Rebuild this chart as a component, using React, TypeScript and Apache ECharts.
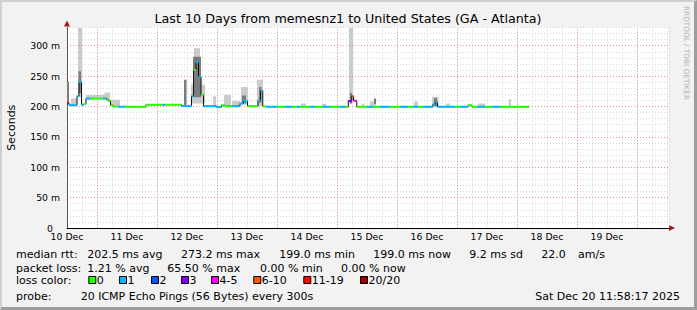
import React, { useEffect, useRef } from "react";
import * as echarts from "echarts";

// ---------- data ----------
const dayLabels = ["10 Dec", "11 Dec", "12 Dec", "13 Dec", "14 Dec", "15 Dec", "16 Dec", "17 Dec", "18 Dec", "19 Dec"];
const midnightHours = [12, 36, 60, 84, 108, 132, 156, 180, 204, 228];
const majorMs = [50, 100, 150, 200, 250, 300];

// median rtt change points: hours since start, ms, loss-colour index
const medianH = [0, 0.8, 4.0, 4.8, 5.8, 6.6, 7.6, 9.2, 14.4, 16.0, 16.6, 17.4, 18.4, 20.4, 23.2, 31.6, 38.0, 39.2, 45.8, 49.8, 50.6, 51.6, 52.6, 53.6, 54.6, 59.8, 61.8, 63.2, 66.0, 69.2, 70.5, 72.2, 76.4, 77.4, 78.3, 79.6, 84.0, 87.2, 90.0, 92.0, 93.2, 97.2, 99.2, 102.4, 105.2, 109.2, 111.2, 112.5, 113.9, 114.6, 115.9, 120.0, 122.4, 125.2, 129.2, 133.2, 136.4, 138.4, 140.4, 142.4, 146.4, 147.4, 148.2, 155.2, 157.2, 160.4, 162.0, 164.0, 167.2, 170.0, 173.2];
const medianMs = [206, 202, 217, 240, 203, 204, 213, 213, 213, 211, 209, 202, 200, 199.5, 199.5, 203, 203, 203, 201, 217, 260, 273, 249, 219, 200.5, 199, 202, 200.5, 200.5, 205, 209, 200.5, 210, 226, 200, 199.5, 199.5, 199.5, 199.5, 199.5, 199.5, 199.5, 199.5, 199.5, 199.5, 199.5, 199.5, 209, 217, 209.5, 199.5, 199.5, 199.5, 199.5, 199.5, 199.5, 199.5, 199.5, 199.5, 199.5, 204, 207, 199.5, 199.5, 199.5, 202, 199.5, 199.5, 199.5, 199.5, 199.5];
const medianLoss = [6, 1, 1, 1, 1, 0, 1, 0, 1, 0, 0, 0, 0, 1, 0, 0, 1, 0, 1, 1, 0, 1, 1, 0, 1, 1, 0, 0, 1, 1, 1, 0, 1, 1, 0, 1, 0, 1, 0, 1, 0, 1, 0, 1, 0, 1, 0, 3, 5, 4, 0, 1, 0, 1, 0, 1, 0, 1, 0, 1, 1, 1, 1, 0, 1, 0, 0, 1, 0, 1, 0];
const lastHour = 184.8;

// smoke: [from h, to h, low ms, high ms]
const smokeLight = [
  [1.6, 4.0, 202, 213], [4.4, 6.0, 215, 329], [7.6, 16.0, 212, 219], [15.0, 17.2, 211, 223],
  [17.2, 21.2, 201, 211], [49.6, 55.2, 205, 236], [50.8, 53.2, 236, 296], [58.4, 59.6, 200, 217],
  [62.8, 65.6, 200, 219], [66.0, 69.2, 200, 209], [69.6, 72.4, 203, 232], [76.0, 78.4, 201, 244],
  [93.6, 95.6, 199, 205], [102.0, 103.6, 199, 204], [112.8, 114.5, 205, 330], [118.0, 118.8, 199, 205],
  [121.2, 123.6, 199, 208], [138.8, 140.4, 199, 208], [146.0, 148.6, 199, 216], [151.6, 153.2, 199, 205],
  [164.4, 167.2, 199, 205], [176.8, 177.6, 199, 212],
];
const smokeDark = [
  [0, 0.8, 205, 241], [4.6, 5.6, 222, 258], [46.8, 47.8, 201, 244], [50.4, 53.6, 215, 282],
  [70.0, 71.6, 205, 218], [76.8, 77.8, 206, 232], [113.2, 114.0, 205, 222], [122.8, 123.6, 204, 213],
  [146.8, 148.0, 201, 214],
];

const lossLabels = ["0", "1", "2", "3", "4-5", "6-10", "11-19", "20/20"];
const lossColors = ["#26ff00", "#00b8ff", "#0059ff", "#7e00ff", "#ff00ff", "#ff5500", "#ff0000", "#a10000"];

const titleText = "Last 10 Days from memesnz1 to United States (GA - Atlanta)";
const rttTexts = ["median rtt:", "202.5 ms avg", "273.2 ms max", "199.0 ms min", "199.0 ms now", "9.2 ms sd", "22.0", "am/s"];
const lossTexts = ["packet loss:", "1.21 % avg", "65.50 % max", "0.00 % min", "0.00 % now"];
const probeTexts = ["probe:", "20 ICMP Echo Pings (56 Bytes) every 300s"];
const stampText = "Sat Dec 20 11:58:17 2025";

// ---------- layout ----------
const FONT = "DejaVu Sans";
const rttX = [16, 87.3, 181, 279.3, 373.3, 469.3, 541.3, 578];
const lossX = [16, 87.3, 167.3, 260, 341];
const boxX = [88.3, 119, 151, 181, 211, 253.3, 303.3, 360];
const probeX = [16, 80.7];

function buildOption() {
  const blocks = medianH.map((h, i) => [h, i + 1 < medianH.length ? medianH[i + 1] : lastHour, medianMs[i], medianLoss[i]]);
  const lineData = medianH.map((h, i) => [h, medianMs[i]]);
  lineData.push([lastHour, medianMs[medianMs.length - 1]]);

  const rectRender = (color: string) => (params: any, api: any) => {
    const p0 = api.coord([api.value(0), api.value(3)]);
    const p1 = api.coord([api.value(1), api.value(2)]);
    return {
      type: "rect",
      shape: { x: p0[0], y: p0[1], width: p1[0] - p0[0], height: p1[1] - p0[1] },
      style: { fill: color },
    };
  };

  const txt = (text: string, x: number, y: number, extra: any = {}) => ({
    type: "text",
    x,
    y,
    silent: true,
    style: { text, fill: "#000", font: `11px '${FONT}'`, verticalAlign: "middle", align: "left", ...extra },
  });

  const graphics: any[] = [];
  graphics.push(txt(titleText, 348, 18, { align: "center", font: `12.7px '${FONT}'` }));
  rttTexts.forEach((t, i) => graphics.push(txt(t, rttX[i], 254)));
  lossTexts.forEach((t, i) => graphics.push(txt(t, lossX[i], 268.3)));
  graphics.push(txt("loss color:", 16, 280.7));
  lossLabels.forEach((t, i) => {
    graphics.push({
      type: "rect",
      silent: true,
      shape: { x: boxX[i] + 0.5, y: 276.5, width: 7, height: 7 },
      style: { fill: lossColors[i], stroke: "#000", lineWidth: 1 },
    });
    graphics.push(txt(t, boxX[i] + 8.5, 280.7));
  });
  probeTexts.forEach((t, i) => graphics.push(txt(t, probeX[i], 296)));
  graphics.push(txt(stampText, 680, 296, { align: "right" }));
  graphics.push({
    type: "text",
    x: 686,
    y: 53,
    rotation: -Math.PI / 2,
    silent: true,
    style: { text: "RRDTOOL / TOBI OETIKER", fill: "#b4b4b4", font: `7.3px '${FONT}'`, align: "center", verticalAlign: "middle" },
  });
  graphics.push({
    type: "polygon",
    silent: true,
    shape: { points: [[64, 26.5], [70, 26.5], [67, 20.5]] },
    style: { fill: "#a01818" },
  });
  graphics.push({
    type: "polygon",
    silent: true,
    shape: { points: [[669, 225], [669, 231], [675, 228]] },
    style: { fill: "#a01818" },
  });

  return {
    animation: false,
    backgroundColor: "transparent",
    textStyle: { fontFamily: FONT },
    grid: {
      left: 67,
      top: 27.5,
      width: 602,
      height: 200.5,
      containLabel: false,
      outerBoundsMode: "none",
      show: true,
      backgroundColor: "#ffffff",
      borderWidth: 0,
    },
    xAxis: {
      type: "value",
      min: 0,
      max: 240.8,
      interval: 6,
      axisLine: { show: true, lineStyle: { color: "#000", width: 1 } },
      axisTick: { show: false },
      axisLabel: {
        interval: 0,
        hideOverlap: false,
        showMaxLabel: false,
        margin: 4,
        color: "#000",
        fontSize: 9.3,
        fontFamily: FONT,
        formatter: (v: number) => (v % 24 === 0 && v / 24 < dayLabels.length ? dayLabels[v / 24] : ""),
      },
      splitLine: { show: true, lineStyle: { color: "#d4d4d4", type: [1, 2], width: 1 } },
    },
    yAxis: {
      type: "value",
      min: 0,
      max: 330,
      interval: 10,
      name: "Seconds",
      nameLocation: "middle",
      nameRotate: 90,
      nameGap: 50,
      nameTextStyle: { color: "#000", fontSize: 11, fontFamily: FONT },
      axisLine: { show: true, lineStyle: { color: "#555", width: 1 } },
      axisTick: { show: false },
      axisLabel: {
        margin: 7,
        color: "#000",
        fontSize: 9.3,
        fontFamily: FONT,
        showMaxLabel: false,
        formatter: (v: number) => (v === 0 ? "{z|0}" : v % 50 === 0 ? `${v} m` : ""),
        rich: { z: { fontSize: 9.3, fontFamily: FONT, color: "#000", padding: [0, 7, 0, 0] } },
      },
      splitLine: { show: true, lineStyle: { color: "#d4d4d4", type: [1, 2], width: 1 } },
    },
    series: [
      {
        type: "line",
        data: [],
        z: 1,
        silent: true,
        markLine: {
          silent: true,
          symbol: "none",
          label: { show: false },
          lineStyle: { color: "rgba(240,70,70,0.5)", type: [1, 2], width: 1 },
          data: [...midnightHours.map((h) => ({ xAxis: h })), ...majorMs.map((m) => ({ yAxis: m }))],
        },
      },
      {
        type: "custom",
        z: 2,
        silent: true,
        clip: true,
        renderItem: rectRender("#cbcbcb"),
        encode: { x: [0, 1], y: [2, 3] },
        data: smokeLight,
      },
      {
        type: "custom",
        z: 3,
        silent: true,
        clip: true,
        renderItem: rectRender("#7c7c7c"),
        encode: { x: [0, 1], y: [2, 3] },
        data: smokeDark,
      },
      {
        type: "line",
        z: 4,
        silent: true,
        step: "end",
        showSymbol: false,
        symbol: "none",
        lineStyle: { color: "#111", width: 1 },
        data: lineData,
      },
      {
        type: "custom",
        z: 5,
        silent: true,
        clip: true,
        encode: { x: [0, 1], y: 2 },
        renderItem: (params: any, api: any) => {
          const a = api.coord([api.value(0), api.value(2)]);
          const b = api.coord([api.value(1), api.value(2)]);
          return {
            type: "rect",
            shape: { x: a[0], y: a[1] - 1, width: b[0] - a[0], height: 2 },
            style: { fill: lossColors[api.value(3)] },
          };
        },
        data: blocks,
      },
    ],
    graphic: graphics,
  };
}

export default function App() {
  const ref = useRef<HTMLDivElement>(null);
  useEffect(() => {
    const chart = echarts.init(ref.current!, null, { renderer: "svg" });
    chart.setOption(buildOption() as any);
    return () => chart.dispose();
  }, []);
  return (
    <div
      style={{
        position: "fixed",
        left: 0,
        top: 0,
        width: 697,
        height: 310,
        boxSizing: "border-box",
        background: "#f2f2f2",
        borderTop: "2px solid #d0d0d0",
        borderLeft: "2px solid #d0d0d0",
        borderRight: "3px solid #9e9e9e",
        borderBottom: "3px solid #9e9e9e",
      }}
    >
      <div ref={ref} style={{ position: "absolute", left: -2, top: -2, width: 697, height: 310 }} />
    </div>
  );
}
